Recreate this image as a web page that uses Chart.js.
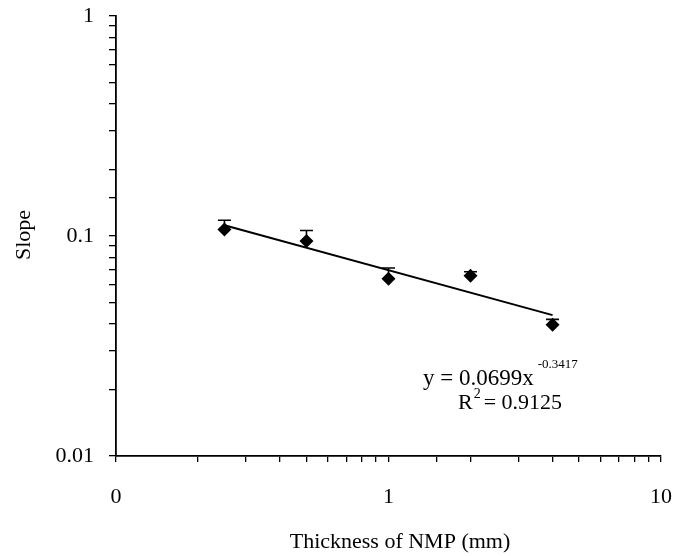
<!DOCTYPE html>
<html>
<head>
<meta charset="utf-8">
<script src="https://cdn.jsdelivr.net/npm/chart.js@4.4.1/dist/chart.umd.min.js"></script>
<style>
html,body{margin:0;padding:0;background:#fff;}
#wrap{width:674px;height:556px;position:relative;}
</style>
</head>
<body>
<div id="wrap"><canvas id="c" width="674" height="556"></canvas></div>
<script>
// Data
const thickness = [0.25, 0.5, 1, 2, 4];            // mm
const slope     = [0.107, 0.095, 0.064, 0.066, 0.0395];
const errTop    = [0.118, 0.106, 0.0715, 0.0688, 0.0418];
const trendX    = [0.25, 4];
const trendY    = [0.112, 0.0437];
const xTickLabels = {0.1: '0', 1: '1', 10: '10'};
const yTickLabels = {0.01: '0.01', 0.1: '0.1', 1: '1'};
const xTitle = 'Thickness of NMP (mm)';
const yTitle = 'Slope';
const eqLine1 = 'y = 0.0699x';
const eqExp = '-0.3417';
const eqLine2a = 'R';
const eqLine2sup = '2';
const eqLine2b = '= 0.9125';

const FONT = "'Liberation Serif', 'Times New Roman', serif";

function near(v, table){
  for (const k in table){ if (Math.abs(v - Number(k)) / Number(k) < 1e-6) return table[k]; }
  return null;
}

const custom = {
  id: 'custom',
  afterDatasetsDraw(chart){
    const ctx = chart.ctx;
    const xs = chart.scales.x, ys = chart.scales.y;
    ctx.save();
    // error bars (upper only)
    ctx.strokeStyle = '#000';
    ctx.lineWidth = 1.6;
    for (let i = 0; i < thickness.length; i++){
      const px = xs.getPixelForValue(thickness[i]);
      const p0 = ys.getPixelForValue(slope[i]);
      const p1 = ys.getPixelForValue(errTop[i]);
      ctx.beginPath();
      ctx.moveTo(px, p0); ctx.lineTo(px, p1);
      ctx.moveTo(px - 6.5, p1); ctx.lineTo(px + 6.5, p1);
      ctx.stroke();
    }
    // titles
    ctx.fillStyle = '#000';
    ctx.font = '22px ' + FONT;
    ctx.textAlign = 'center';
    ctx.textBaseline = 'alphabetic';
    ctx.fillText(xTitle, 400, 548);
    ctx.save();
    ctx.translate(30, 235);
    ctx.rotate(-Math.PI/2);
    ctx.textBaseline = 'middle';
    ctx.fillText(yTitle, 0, -6);
    ctx.restore();
    // equation
    ctx.textAlign = 'left';
    ctx.textBaseline = 'alphabetic';
    ctx.font = '23px ' + FONT;
    const x1 = 423, y1 = 385;
    ctx.fillText(eqLine1, x1, y1);
    const w1 = ctx.measureText(eqLine1).width;
    ctx.font = '13px ' + FONT;
    ctx.fillText(eqExp, x1 + w1 + 4, y1 - 17);
    ctx.font = '22px ' + FONT;
    const x2 = 458, y2 = 409;
    ctx.fillText(eqLine2a, x2, y2);
    const wr = ctx.measureText(eqLine2a).width;
    ctx.font = '14px ' + FONT;
    ctx.fillText(eqLine2sup, x2 + wr + 1, y2 - 11);
    const ws = ctx.measureText(eqLine2sup).width;
    ctx.font = '22px ' + FONT;
    ctx.fillText(eqLine2b, x2 + wr + ws + 4, y2);
    ctx.restore();
  }
};

new Chart(document.getElementById('c'), {
  data: {
    datasets: [
      {
        type: 'scatter',
        data: thickness.map((x, i) => ({x: x, y: slope[i]})),
        pointStyle: 'rectRot',
        radius: 7,
        backgroundColor: '#000',
        borderColor: '#000',
        borderWidth: 0,
        order: 1
      },
      {
        type: 'line',
        data: trendX.map((x, i) => ({x: x, y: trendY[i]})),
        borderColor: '#000',
        borderWidth: 2,
        pointRadius: 0,
        fill: false,
        tension: 0,
        order: 2
      }
    ]
  },
  plugins: [custom],
  options: {
    responsive: false,
    animation: false,
    devicePixelRatio: 1,
    layout: { padding: { top: 16, right: 13, left: 0, bottom: 0 } },
    plugins: { legend: { display: false }, tooltip: { enabled: false } },
    scales: {
      x: {
        type: 'logarithmic',
        position: 'bottom',
        min: 0.1, max: 10,
        afterFit(scale){ scale.height = 100; scale.paddingLeft = 0; scale.paddingRight = 0; },
        grid: { drawOnChartArea: false, drawTicks: true, tickLength: 6, color: '#000', lineWidth: 1.3 },
        border: { color: '#000', width: 1.8 },
        ticks: {
          autoSkip: false,
          maxRotation: 0,
          padding: 22,
          color: '#000',
          font: { family: FONT, size: 22 },
          callback(v){ const l = near(v, xTickLabels); return l === null ? '' : l; }
        }
      },
      y: {
        type: 'logarithmic',
        position: 'left',
        min: 0.01, max: 1,
        afterFit(scale){ scale.width = 116; scale.paddingTop = 0; scale.paddingBottom = 0; },
        grid: { drawOnChartArea: false, drawTicks: true, tickLength: 7, color: '#000', lineWidth: 1.3 },
        border: { color: '#000', width: 1.8 },
        ticks: {
          autoSkip: false,
          padding: 15,
          color: '#000',
          font: { family: FONT, size: 22 },
          callback(v){ const l = near(v, yTickLabels); return l === null ? '' : l; }
        }
      }
    }
  }
});
</script>
</body>
</html>
